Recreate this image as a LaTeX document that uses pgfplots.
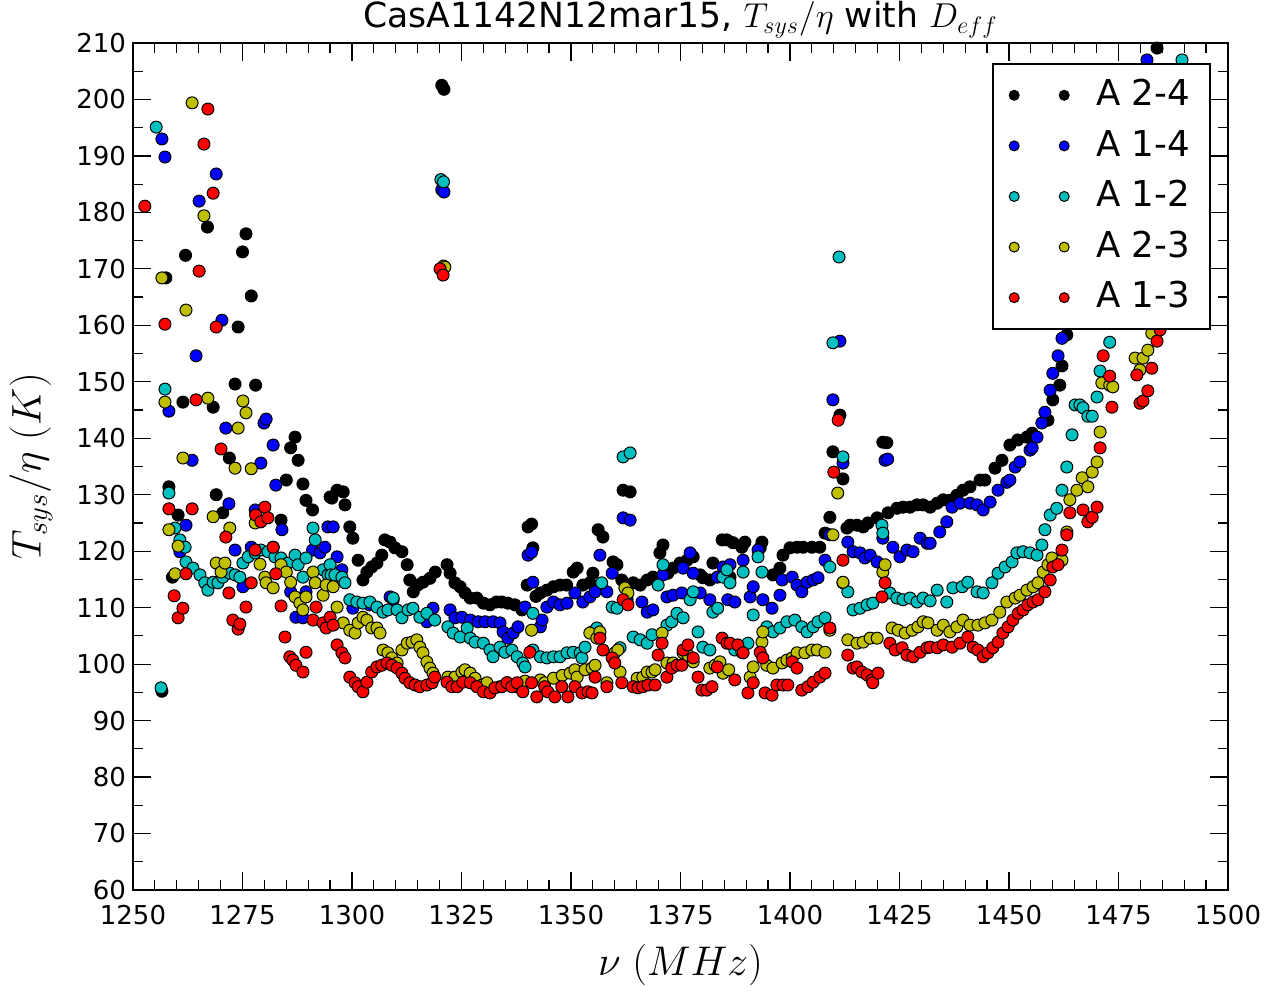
\documentclass[border=0pt]{standalone}
\usepackage[no-math]{fontspec}
\setmainfont{DejaVu Sans}
\usepackage{pgfplots}
\pgfplotsset{compat=1.18}
\definecolor{mplc}{rgb}{0,0.75,0.75}
\definecolor{mply}{rgb}{0.75,0.75,0}
\pgfplotsset{
  dot/.style={only marks, mark=*, mark size=3pt,
    mark options={fill=#1, draw=black, line width=0.5pt}},
}
\begin{document}
\begin{tikzpicture}
\useasboundingbox (-66.5pt,-52pt) rectangle (569pt,445pt);
\begin{axis}[
  at={(0pt,0pt)}, anchor=south west,
  scale only axis, width=547.5pt, height=423.5pt,
  xmin=1250, xmax=1500, ymin=60, ymax=210,
  xtick={1250,1275,...,1500}, ytick={60,70,...,210},
  minor x tick num=4, minor y tick num=1,
  tick pos=both, tick align=inside,
  major tick length=9pt, minor tick length=5pt,
  every tick/.style={black, line width=0.6pt},
  axis line style={line width=1.2pt},
  scaled ticks=false,
  /pgf/number format/1000 sep={},
  /pgf/number format/assume math mode=true,
  tick label style={font=\fontsize{13}{15}\selectfont},
  xticklabel style={yshift=-4pt},
  title={CasA1142N12mar15, $T_{sys}/\eta$ with $D_{eff}$},
  every axis title/.style={at={(axis description cs:0.5,1)}, anchor=base, yshift=7.5pt, font=\fontsize{17.3}{20}\selectfont},
  xlabel={$\nu\;(MHz)$},
  ylabel={$T_{sys}/\eta\;(K)$},
  label style={font=\fontsize{20}{24}\selectfont},
  xlabel style={at={(axis description cs:0.5,-0.0886)}, anchor=center},
  ylabel style={at={(axis description cs:-0.0932,0.5)}, anchor=center},
  legend style={at={(axis description cs:0.9845,0.9764)}, anchor=north east,
    draw=black, line width=1pt, fill=white,
    font=\fontsize{17.8}{20}\selectfont,
    inner xsep=8pt, inner ysep=6pt, column sep=11.5pt, row sep=6pt,
    nodes={inner sep=2pt, text height=12.8pt, text depth=2.5pt}},
  legend cell align=left,
  legend image code/.code={\draw[#1, mark size=2.5pt] plot[only marks] coordinates {(0pt,0pt) (25pt,0pt)};},
]
% A 2-4 (black)
\addplot[dot=black] coordinates {
(1256.6,95.2) (1257.5,168.4) (1258.2,131.4) (1259,115.4) (1260.3,126.4) (1261.4,146.4) (1262,172.4) (1267,177.4) (1268.3,145.5) (1269,130) (1270.5,126.8) (1272,136.5) (1273.3,149.6) (1274,159.7) (1275,173) (1275.8,176.2) (1277,165.2) (1278,149.4) (1282,120.7) (1283.8,125.5) (1285,132.6) (1286,138.3) (1287,140.2) (1287.7,136.1) (1288.8,131.9) (1289.5,129) (1291,127.3) (1295,129.6) (1295.4,129.4) (1296.6,130.8) (1298,130.5) (1298.4,128.2) (1299.5,124.3) (1300.2,122.3) (1301.4,118.4) (1302.5,114.9) (1303.4,116.3) (1304.5,117.2) (1305.7,117.9) (1306.8,119.3) (1307.5,122) (1308.7,121.6) (1309.8,120.6) (1311.4,119.9) (1312.6,117.6) (1313.2,114.9) (1314,112.8) (1315,114) (1316.2,114.5) (1317.8,115.2) (1319,116.3) (1320.5,202.5) (1321,201.8) (1321.7,117.6) (1322.4,116.1) (1323.5,114.4) (1324.7,113.7) (1325.8,112.6) (1327,111.7) (1328.5,111.7) (1330,110.8) (1331.5,110.5) (1333,111) (1334.2,111) (1335.6,110.8) (1337.2,110.5) (1338.8,109.6) (1340,114) (1340.2,124.3) (1341,124.8) (1341.3,120.6) (1342,112) (1343,112.6) (1344.5,113.1) (1346,113.7) (1347.5,114) (1349,114) (1350.5,116.3) (1351.4,117) (1352.7,114) (1354.3,114.4) (1355,116.1) (1356.2,123.8) (1357.3,122.5) (1359.6,118.1) (1360.5,117.6) (1361.6,114.9) (1361.9,130.8) (1363.5,130.5) (1364.2,114.4) (1365.8,114) (1367.4,114.9) (1368.7,115.4) (1370.3,119.7) (1371,121.1) (1372.1,116.1) (1373.3,117) (1374.9,117.9) (1376.5,118.4) (1377.9,119) (1379.5,115.8) (1380.1,115.3) (1381.7,114.9) (1382.4,117.9) (1384.5,122) (1385.6,122) (1386.3,115.4) (1387,121.5) (1389,120.7) (1389.7,121.6) (1393.2,120.6) (1393.6,121.6) (1396.1,115.8) (1397.7,117) (1398.4,119.3) (1400,120.6) (1401.6,120.7) (1403,120.7) (1405,120.7) (1406.8,120.7) (1408,123.2) (1409.1,126) (1409.8,137.6) (1411.4,144.1) (1412.1,132.8) (1413,124.1) (1413.7,124.6) (1415.3,124.6) (1416.7,124.3) (1417.8,125) (1419.9,125.9) (1421.2,139.3) (1422.1,139.2) (1422.4,126.8) (1424.4,127.6) (1425.8,127.8) (1427.4,127.8) (1429,128.2) (1430.4,128.2) (1432,127.8) (1433.6,128.5) (1435,129.1) (1436.5,129) (1438.1,129.9) (1439.5,130.8) (1441.1,131.4) (1443.4,132.6) (1444.5,132.6) (1446.8,134.7) (1448.4,136.1) (1450.2,138.8) (1452,139.7) (1454.1,140.2) (1455.3,140.9) (1458.9,143.2) (1460,146.8) (1461.6,149.4) (1462.1,152.8) (1463.2,158.3) (1465,163) (1467,168) (1469,172) (1471,177) (1473,182) (1475,187) (1477,193) (1479,198) (1481,203) (1483.8,209.1) (1486,214)
};
\addlegendentry{A 2-4}
% A 1-4 (blue)
\addplot[dot=blue] coordinates {
(1256.6,193) (1257.3,189.8) (1258.2,144.8) (1260.7,119.9) (1262.1,124.6) (1263.5,136.1) (1264.4,154.6) (1265.1,182) (1269,186.8) (1270.3,160.9) (1271.2,141.8) (1271.9,128.4) (1273.3,120.2) (1275.1,113.7) (1277,120.7) (1277.9,127.3) (1279.2,135.6) (1279.9,142.7) (1280.4,143.4) (1282,138.8) (1282.6,131.7) (1284,123.8) (1286,112.8) (1287.2,108.3) (1288.8,108.2) (1289.5,112.8) (1291,120.2) (1292.7,119.7) (1293.8,120.7) (1294.5,124.3) (1295.7,124.3) (1296.6,119) (1297.7,116.7) (1300.2,109.9) (1304,110.5) (1308.7,111.9) (1309.4,111.4) (1317.1,107.5) (1318.5,109.9) (1320.5,184) (1321,183.6) (1322.4,109.6) (1323.5,108.2) (1325.1,108.3) (1327,107.8) (1328.8,107.5) (1330.4,107.5) (1332.2,107.5) (1333.8,107.3) (1334.5,105.7) (1335.6,104.6) (1336.8,105.5) (1337.9,106.6) (1339.5,110.1) (1340.2,119.3) (1341,119.8) (1341.3,114.5) (1343,106.6) (1343.4,107.8) (1344.5,110.1) (1346,111) (1347.5,110.5) (1349.1,110.8) (1350.9,112.6) (1352.7,111) (1354.3,111.9) (1355.5,112.8) (1356.6,119.3) (1358.2,112.8) (1359.4,116.1) (1361.9,125.9) (1362.8,111.4) (1363.5,125.5) (1366.2,111) (1367.4,109.2) (1368.7,109.6) (1371,115.8) (1371.9,111.9) (1373.3,112.2) (1375.3,112.6) (1375.6,117) (1377.2,119.7) (1377.9,116.1) (1379.5,112.6) (1381.7,111.4) (1383.4,115.4) (1384.7,117.2) (1385.8,111.4) (1386.3,117.6) (1387.4,111) (1389.3,118.4) (1390.9,111.9) (1391.6,113.7) (1392.7,120.2) (1393.8,111.4) (1395.9,109.9) (1397.7,112.2) (1398.2,114.9) (1400.5,115.4) (1401.6,114) (1402.7,112.8) (1403.9,114.5) (1405.3,114.9) (1406.4,115.3) (1408,118.4) (1409.1,122.9) (1409.8,146.8) (1411.4,157.2) (1412.1,135.6) (1413.2,121.6) (1414.4,119.9) (1416,119.7) (1417.1,118.8) (1418.3,119.3) (1419.9,118.1) (1421.2,122.3) (1421.7,136.1) (1422.3,136.3) (1423.5,120.7) (1425.1,119) (1426.7,120.2) (1428.1,119.9) (1429.7,122.3) (1431.3,121.4) (1432,121.4) (1434.2,123.4) (1435.8,125.2) (1437,127.8) (1438.8,128.5) (1441.1,128.5) (1442.7,128.2) (1444.1,127.3) (1445.7,128.7) (1447.5,130.8) (1449.5,132.2) (1450.2,132.6) (1451.4,134.9) (1452.5,135.8) (1454.8,137.9) (1455.3,138.3) (1456.4,140.2) (1457.5,142.7) (1458.2,144.6) (1459.4,148.5) (1460,151.5) (1461.2,154.6) (1462.1,157.7) (1464,163) (1466,168) (1468,173) (1470,178) (1472,184) (1474,189) (1476,195) (1478,200) (1481.5,207) (1484,213)
};
\addlegendentry{A 1-4}
% A 1-2 (cyan)
\addplot[dot=mplc] coordinates {
(1255.3,195.1) (1256.4,95.8) (1257.3,148.7) (1258.2,130.3) (1259.6,124.1) (1260.7,122) (1261.9,120.7) (1262.1,118.1) (1263.7,117) (1265.3,115.8) (1266.4,114.4) (1267.1,113.1) (1268.3,114.5) (1269.4,114.4) (1270.5,115.4) (1272.1,116.1) (1273.3,115.8) (1274.4,115.4) (1275.1,117.9) (1276.3,119) (1277.9,119.7) (1279.2,120.2) (1280.8,119.9) (1282.4,119) (1283.8,118.8) (1285.4,117.9) (1287,119.3) (1287.7,117.6) (1288.8,115.4) (1289.5,118.8) (1291.1,124.1) (1291.6,122) (1293.4,116.7) (1294.5,115.8) (1295,117.6) (1295.2,115.8) (1296.1,115.8) (1297.7,115.4) (1298.4,114.4) (1299.5,111.4) (1301.1,111) (1302.5,110.8) (1304.1,111) (1305.7,110.1) (1307.1,109.2) (1308.2,109.6) (1309.4,111.7) (1310.3,109.6) (1311.4,108.2) (1312.8,109.6) (1313.9,109.9) (1315.5,108.3) (1317.1,109) (1318.9,107.8) (1320.3,185.8) (1320.9,185.4) (1321.9,106.6) (1323.1,105.5) (1324.7,104.8) (1326.3,106.4) (1327,104.6) (1328.1,103.9) (1330,103.7) (1331.5,102.5) (1332.2,101.3) (1333.8,103) (1334.9,102.1) (1336.5,102.5) (1337.7,101.3) (1339,100.2) (1339.5,99.5) (1341.3,109) (1341.3,102.5) (1343,101.3) (1344.5,101.1) (1346,101.3) (1347.5,101.3) (1349.1,102) (1350.5,102.1) (1352.1,102) (1352.5,101.1) (1353.2,103) (1354.8,105.7) (1355.9,106.4) (1357,114.4) (1359.4,110.1) (1360.5,109.9) (1361.2,102.9) (1361.9,136.7) (1363.5,137.4) (1364.2,104.8) (1365.8,104.3) (1367.4,103.7) (1368.5,105.2) (1369.9,114) (1371,117.6) (1371.9,106.9) (1373,107.5) (1374.2,109) (1375.6,108.2) (1377.2,111.4) (1377.9,112.8) (1379,105.7) (1380.1,103) (1381.7,102.5) (1382.4,109.2) (1383.5,109.9) (1384.7,115.4) (1385.6,116.7) (1386.3,114.4) (1387.4,102.5) (1389.3,116.3) (1390.4,103.7) (1391.6,108.7) (1392.7,119) (1393.6,116.3) (1394.7,106.6) (1396.1,105.7) (1397.7,106.4) (1399.3,107.5) (1401.1,107.8) (1402.7,106.6) (1403.9,105.7) (1405.3,106.6) (1406.4,107.5) (1408,108.2) (1409.1,117.2) (1409.8,156.9) (1411.2,172.1) (1412.1,136.7) (1412.1,114.4) (1413.2,112.8) (1414.4,109.6) (1416,109.9) (1417.6,110.5) (1418.9,110.8) (1421,124.6) (1421.2,123.2) (1422.8,112.6) (1424.4,111.7) (1425.8,111.4) (1427.4,111.7) (1429,111) (1430.4,111.7) (1432,111.2) (1433.6,113.1) (1435.8,111) (1437.2,113.5) (1439.3,113.7) (1440.6,114.5) (1442.7,112.8) (1444.1,112.6) (1446.1,114.4) (1447.5,116.1) (1449.1,117.2) (1450.7,118.1) (1451.8,119.7) (1453.2,119.9) (1454.8,119.7) (1456.4,119.3) (1457.5,121.1) (1458.2,123.8) (1459.4,126.4) (1460.9,127.6) (1462.1,130.8) (1463.2,134.9) (1464.4,140.6) (1465.1,145.9) (1466.2,145.9) (1466.9,145.4) (1468,143.9) (1469,143.9) (1470.1,147.3) (1470.8,151.9) (1473,157) (1475,163) (1477,169) (1479,175) (1481,181) (1483,187) (1485,194) (1487,200) (1489.5,207) (1491,212)
};
\addlegendentry{A 1-2}
% A 2-3 (yellow)
\addplot[dot=mply] coordinates {
(1256.6,168.4) (1257.3,146.4) (1258.2,123.8) (1259.6,116) (1260.3,120.9) (1261.4,136.5) (1262.1,162.7) (1263.5,199.4) (1266.2,179.4) (1267.1,147.1) (1268.3,126.1) (1269,117.9) (1270.1,116.3) (1271,117.9) (1272.1,124.1) (1273.3,134.7) (1274,141.8) (1275.1,146.6) (1275.8,144.5) (1277,134.6) (1277.9,125) (1279,117.7) (1280.1,115.4) (1280.4,114.4) (1282,113.5) (1283.8,117.6) (1285,116.3) (1286,114.5) (1287,111.9) (1288.1,110.8) (1288.8,109.6) (1289.5,111.9) (1291.1,116.3) (1291.6,114.4) (1293.4,112.2) (1294.1,114) (1295.7,113.7) (1296.6,110.1) (1298,107.3) (1299.5,106) (1300.7,105.5) (1301.4,107.3) (1302.5,108.3) (1303.4,107.8) (1304.5,106.4) (1305.7,106.4) (1306.4,105.5) (1307.1,102.5) (1308.2,102) (1309.1,101.1) (1310.3,100.2) (1311.4,102.5) (1312.6,103.7) (1313.7,103.9) (1314.8,104.3) (1315.5,103) (1316.2,102) (1317.1,100.4) (1317.8,99.3) (1318.5,98.4) (1320.9,170.5) (1321.2,170.3) (1321.9,97.7) (1323.5,97.7) (1325.1,98.6) (1325.8,99) (1327,98.4) (1328.1,97.5) (1329.7,96.3) (1330.8,96.7) (1333.8,96) (1335.4,96.7) (1337.7,96) (1339.5,97) (1341,106) (1343,97.2) (1344,96.7) (1346,97.5) (1348,98) (1349.8,98.4) (1350.9,99) (1351.4,97.7) (1353.2,99) (1354.3,105.5) (1354.8,99.3) (1355.5,99.8) (1355.9,104.6) (1356.6,105.7) (1358.2,96.7) (1360,102) (1360.7,102.5) (1361.2,98.6) (1362.3,113.5) (1363,112.6) (1365.1,97.5) (1366.4,97.7) (1367.4,98.6) (1368.5,98.6) (1369.2,99) (1370.8,105.5) (1371.9,100.2) (1373.3,100.2) (1375.6,102) (1376.7,101.6) (1377.9,100.4) (1381.7,99.3) (1382.9,99.8) (1384,100.4) (1384.7,98.4) (1386,99) (1389,102.1) (1390.9,97.7) (1391.6,99.5) (1393.6,103.9) (1393.8,105.7) (1394.7,99.8) (1396.1,99.3) (1398.2,100.2) (1399.3,100.7) (1400.5,101.1) (1401.6,102) (1403.4,102) (1405,102.5) (1406.2,102.5) (1408,102.1) (1409.1,106) (1409.8,122.9) (1410.9,130.3) (1412.1,114.5) (1413.2,104.3) (1415.3,103.7) (1416.7,103.9) (1418.3,104.6) (1419.9,104.6) (1421.2,116.3) (1421.7,117.6) (1423.3,106.4) (1424.7,106) (1426.3,105.5) (1427.9,106) (1429.2,106.6) (1430.4,107.5) (1431.5,107.3) (1433.6,106) (1435,106.9) (1436.5,105.7) (1438.1,106.6) (1439.5,107.8) (1441.1,106.9) (1442.9,106.9) (1444.5,107.3) (1446.1,107.8) (1447.9,109.2) (1449.5,111) (1451.4,111.7) (1452.5,112.2) (1454.1,113.1) (1455.5,113.7) (1456.6,114.4) (1457.8,116.3) (1458.9,117.6) (1459.8,118.8) (1462.1,118.4) (1463.2,123.4) (1463.9,129.1) (1465.5,130.8) (1466.7,133) (1468,131.4) (1469,134) (1470.1,135.8) (1470.8,141.1) (1471.2,149.8) (1473,149.4) (1473.7,149.1) (1478.8,154.2) (1479.9,152.1) (1480.6,154.2) (1481.7,155.6) (1482.6,158.6) (1484.5,160) (1486,165) (1488,171) (1490,178) (1492,185)
};
\addlegendentry{A 2-3}
% A 1-3 (red)
\addplot[dot=red] coordinates {
(1252.7,181.1) (1257.3,160.2) (1258.2,127.5) (1259.4,112.1) (1260.3,108.2) (1261.4,109.9) (1262.1,116) (1263.5,127.5) (1264.4,146.8) (1265.1,169.6) (1266.2,192.1) (1267.1,198.3) (1268.3,183.4) (1269,159.7) (1270.1,138.1) (1271.2,122.5) (1271.9,112.6) (1272.8,107.8) (1274,106.2) (1274.4,107.1) (1275.8,110.1) (1277,114.4) (1277.9,120.2) (1278,126.4) (1279.2,125.2) (1280.1,127.8) (1280.8,125.9) (1282,120.7) (1282.6,116) (1283.8,110.3) (1284.7,104.8) (1285.8,101.3) (1286.5,100.7) (1287.2,99.8) (1288.8,98.6) (1289.5,102.1) (1291.1,107.8) (1291.8,110.1) (1293.4,107.3) (1294.1,106.4) (1295,108.3) (1295.7,106.9) (1296.6,103.4) (1297.7,102) (1298.4,101.1) (1299.5,97.7) (1300.7,96.7) (1301.4,96) (1302.5,95.1) (1303.4,96.8) (1304.5,98.6) (1305.7,99.5) (1306.8,99.8) (1308,100.2) (1309.1,99.8) (1310.3,99.3) (1311.4,98.4) (1312.1,97.5) (1313.2,96.7) (1314.4,96.3) (1315.5,96) (1317.1,96.3) (1318.3,96.7) (1318.9,97.7) (1320.1,170) (1320.8,168.9) (1321.7,96.8) (1322.8,96) (1324,96) (1325.3,96.8) (1327,96.7) (1328.5,96) (1330,95.1) (1331.5,94.9) (1332.6,95.8) (1334.2,96) (1335.4,96.7) (1336.5,96) (1337.7,96.7) (1339,95.1) (1340.6,102.1) (1341,96.7) (1342.2,94.2) (1344,96) (1344.7,95.1) (1346.3,94.2) (1347.9,96) (1349.3,94.2) (1350.9,96) (1352.5,94.9) (1353.9,95.1) (1354.8,94.9) (1355.5,97.7) (1356.6,104.6) (1357.3,102.5) (1358.2,96) (1359.4,101.1) (1360,100.2) (1361.6,96.7) (1361.9,111.4) (1363,110.5) (1364.2,96) (1365.3,95.8) (1366.4,96) (1367.6,96.3) (1369.2,96.3) (1369.9,101.6) (1370.8,103.7) (1371.9,97.7) (1373,99.3) (1374.2,99.8) (1375.3,99.8) (1375.6,102.5) (1376.7,103.4) (1377.9,101.1) (1379,97.7) (1379.9,95.4) (1381,95.4) (1382.2,96) (1383.4,99.5) (1384.5,104.6) (1385.6,103.7) (1386.3,103.7) (1387.4,97.2) (1388.1,103.4) (1389.3,102) (1390.4,94.9) (1391.6,96.7) (1393.2,102.1) (1393.8,101.1) (1394.3,94.9) (1395.9,94.5) (1397,96.3) (1398.4,96.3) (1399.5,96.3) (1400.5,100.4) (1401.6,99.3) (1402.7,95.4) (1404.1,96) (1405.3,96.8) (1406.8,97.7) (1408,98.4) (1409.1,106.4) (1410,134) (1411,143.2) (1412.1,118.4) (1413.2,101.6) (1414.4,99.3) (1415.3,99.5) (1416.4,98.6) (1417.6,98.1) (1418.7,97.2) (1418.9,96.7) (1420.1,98.4) (1421,111.9) (1421.7,114.4) (1422.8,103.7) (1424,102.5) (1425.6,102.9) (1426.7,101.6) (1428.1,101.3) (1429.7,102.1) (1431.3,102.9) (1432,103) (1433.6,102.9) (1435,103.4) (1437,103) (1438.8,103.7) (1440.6,104.8) (1441.8,103) (1442.9,102.5) (1444.1,101.3) (1445.2,102) (1446.3,102.9) (1447.5,103.9) (1448.6,105.5) (1449.8,106.6) (1450.9,107.8) (1452.1,109) (1453.2,109.6) (1454.3,110.5) (1455.5,111) (1456.6,111.4) (1458.2,112.8) (1459.4,114.9) (1460,117.2) (1461.2,117.6) (1462.1,120.2) (1463.2,122.9) (1463.9,126.8) (1466.9,127.3) (1468,125.2) (1469,126) (1470.1,127.8) (1470.8,138.3) (1471.5,154.6) (1473,151) (1473.5,145.5) (1479.2,151.2) (1479.9,146.2) (1480.6,146.6) (1481.7,148.4) (1482.6,152.4) (1483.8,157.2) (1484.5,159.2) (1486,164) (1488,170) (1490,177)
};
\addlegendentry{A 1-3}
\end{axis}
\end{tikzpicture}
\end{document}
